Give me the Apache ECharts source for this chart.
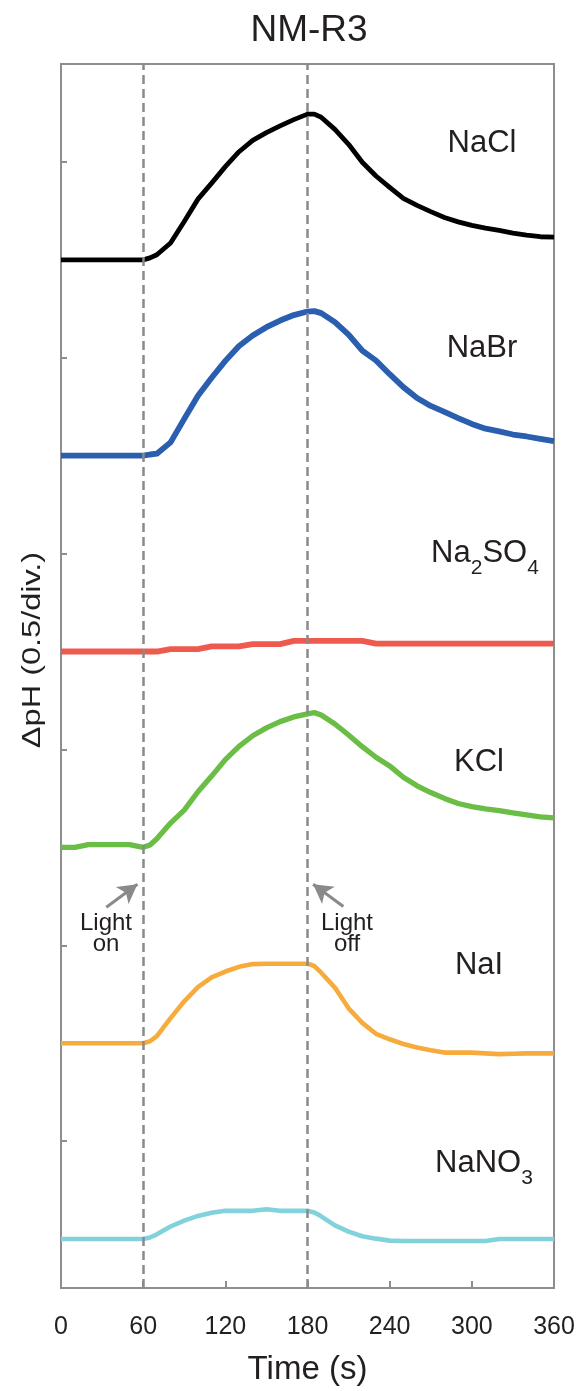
<!DOCTYPE html>
<html><head><meta charset="utf-8">
<script src="https://cdn.jsdelivr.net/npm/echarts@6/dist/echarts.min.js"></script>
<style>html,body{margin:0;padding:0;background:#fff}#c{width:579px;height:1391px}</style>
</head><body><div id="c"></div>
<script>
// ---- data (ΔpH vs time, s) ----
const times = [0,10,20,30,40,50,60,65,70,80,90,100,110,120,130,140,150,160,170,180,185,190,200,210,220,230,240,250,260,270,280,290,300,310,320,330,340,350,360];
const salts = ['NaCl','NaBr','Na2SO4','KCl','NaI','NaNO3'];
const naCl   = [0,0,0,0,0,0,0,0.005,0.013,0.043,0.098,0.155,0.196,0.238,0.276,0.305,0.325,0.342,0.358,0.372,0.372,0.364,0.333,0.295,0.249,0.214,0.185,0.157,0.139,0.123,0.108,0.097,0.088,0.081,0.075,0.068,0.063,0.059,0.058];
const naBr   = [0,0,0,0,0,0,0,0.003,0.005,0.034,0.094,0.153,0.199,0.242,0.28,0.307,0.328,0.345,0.359,0.368,0.369,0.364,0.341,0.309,0.268,0.243,0.208,0.175,0.147,0.127,0.112,0.096,0.081,0.069,0.062,0.054,0.049,0.043,0.037];
const na2SO4 = [0,0,0,0,0,0,0,0,0,0.006,0.006,0.006,0.013,0.013,0.013,0.019,0.019,0.019,0.027,0.027,0.027,0.027,0.027,0.027,0.027,0.02,0.02,0.02,0.02,0.02,0.02,0.02,0.02,0.02,0.02,0.02,0.02,0.02,0.02];
const kCl    = [0,0,0.007,0.007,0.007,0.007,0,0.006,0.022,0.062,0.095,0.142,0.182,0.224,0.258,0.285,0.305,0.321,0.333,0.341,0.344,0.338,0.315,0.287,0.257,0.23,0.208,0.179,0.157,0.14,0.125,0.112,0.104,0.098,0.094,0.088,0.083,0.078,0.075];
const naI    = [0,0,0,0,0,0,0,0.005,0.018,0.064,0.107,0.143,0.168,0.183,0.195,0.202,0.203,0.203,0.203,0.203,0.197,0.18,0.142,0.089,0.052,0.024,0.01,-0.002,-0.011,-0.018,-0.024,-0.024,-0.024,-0.026,-0.028,-0.027,-0.026,-0.026,-0.026];
const naNO3  = [0,0,0,0,0,0,0,0.004,0.012,0.032,0.047,0.059,0.067,0.072,0.072,0.072,0.076,0.072,0.072,0.072,0.068,0.058,0.035,0.019,0.007,0.001,-0.004,-0.005,-0.005,-0.005,-0.005,-0.005,-0.005,-0.005,0,0,0,0,0];
const seriesValues = [naCl, naBr, na2SO4, kCl, naI, naNO3];
const offsets = [2.5, 2.0, 1.5, 1.0, 0.5, 0];          // stacking offset of each trace (1 div = 0.5)
const xTicks = [0, 60, 120, 180, 240, 300, 360];
const yTickValues = [0,0.25,0.5,0.75,1,1.25,1.5,1.75,2,2.25,2.5,2.75];
const lightTimes = [60, 180];
const arrowOn  = [[33.1, 0.847], [55.8, 0.906]];
const arrowOff = [[206.2, 0.849], [184.1, 0.906]];
// label text pieces: [text, isSubscript]
const labelParts = [
  [['NaCl', 0]],
  [['NaBr', 0]],
  [['Na', 0], ['2', 1], ['SO', 0], ['4', 1]],
  [['KCl', 0]],
  [['NaI', 0]],
  [['NaNO', 0], ['3', 1]]
];

// ---- styling ----
const colors = ['#000000', '#2a5fb0', '#ef5a4e', '#6abd45', '#f7ab3c', '#82d2dc'];
const widths = [4.8, 5.8, 5.8, 5.3, 4.6, 4.6];
const FONT = '"Liberation Sans", Arial, Helvetica, sans-serif';
const TXT = '#231f20';
const GRAY = '#8e8e8e';
const MAIN_FS = 31, SUB_FS = 21, SUB_DROP = 15;

const chart = echarts.init(document.getElementById('c'), null, {renderer: 'canvas'});

const series = seriesValues.map((vals, i) => ({
  name: salts[i],
  type: 'line',
  z: 3,
  showSymbol: false,
  silent: true,
  animation: false,
  lineStyle: {color: colors[i], width: widths[i], join: 'round', cap: 'butt'},
  data: times.map((t, k) => [t, vals[k] + offsets[i]])
}));

const arrowPair = (a) => [
  {coord: a[0], symbol: 'none', lineStyle: {type: 'solid', width: 3, color: '#8a8a8a'}},
  {coord: a[1], symbol: 'arrow', symbolSize: [16, 19]}
];

series.unshift({
  type: 'line', z: 1, silent: true, animation: false, data: [],
  markLine: {
    silent: true, animation: false, symbol: ['none', 'none'],
    label: {show: false},
    lineStyle: {color: '#8a8a8a', width: 2.5, type: [9, 5]},
    emphasis: {disabled: true},
    data: lightTimes.map(t => ({xAxis: t})).concat([arrowPair(arrowOn), arrowPair(arrowOff)])
  }
});

const labelPos = [[482, 143], [482, 348], [485, 553], [479, 762], [479, 965], [484, 1163]];

const graphics = [
  {type: 'text', x: 309, y: 31, silent: true, style: {text: 'NM-R3', fontSize: 37, fontFamily: FONT, fill: TXT, align: 'center', verticalAlign: 'middle', textAlign: 'center', textVerticalAlign: 'middle'}},
  {type: 'text', x: 33, y: 650, rotation: Math.PI / 2, scaleX: 1.3, silent: true, style: {text: 'ΔpH (0.5/div.)', fontSize: 25, fontFamily: FONT, fill: TXT, align: 'center', verticalAlign: 'middle', textAlign: 'center', textVerticalAlign: 'middle'}},
  {type: 'text', x: 106, y: 913, silent: true, style: {text: 'Light\non', fontSize: 24, lineHeight: 21, fontFamily: FONT, fill: TXT, align: 'center', verticalAlign: 'top', textAlign: 'center', textVerticalAlign: 'top'}},
  {type: 'text', x: 347, y: 913, silent: true, style: {text: 'Light\noff', fontSize: 24, lineHeight: 21, fontFamily: FONT, fill: TXT, align: 'center', verticalAlign: 'top', textAlign: 'center', textVerticalAlign: 'top'}}
];

const mctx = document.createElement('canvas').getContext('2d');
function measure(txt, fs) { mctx.font = fs + 'px ' + FONT; return mctx.measureText(txt).width; }

labelParts.forEach((parts, i) => {
  const ws = parts.map(p => measure(p[0], p[1] ? SUB_FS : MAIN_FS));
  const total = ws.reduce((a, b) => a + b, 0);
  let x = labelPos[i][0] - total / 2;
  parts.forEach((p, j) => {
    graphics.push({type: 'text', x: x, y: labelPos[i][1] + (p[1] ? SUB_DROP : 0), silent: true,
      style: {text: p[0], fontSize: p[1] ? SUB_FS : MAIN_FS, fontFamily: FONT, fill: TXT,
        align: 'left', verticalAlign: 'middle', textAlign: 'left', textVerticalAlign: 'middle'}});
    x += ws[j];
  });
});

chart.setOption({
  animation: false,
  backgroundColor: '#ffffff',
  grid: {left: 61, top: 64, width: 493, height: 1225, show: true, borderColor: GRAY, borderWidth: 2, backgroundColor: 'transparent'},
  xAxis: {
    type: 'value', min: 0, max: 360, interval: 60,
    axisLine: {onZero: false, lineStyle: {color: GRAY, width: 2}},
    axisTick: {inside: true, length: 7, lineStyle: {color: GRAY, width: 2}, customValues: xTicks},
    axisLabel: {fontSize: 25, color: TXT, fontFamily: FONT, margin: 27, customValues: xTicks},
    splitLine: {show: false},
    name: 'Time (s)', nameLocation: 'middle', nameGap: 65,
    nameTextStyle: {fontSize: 33, color: TXT, fontFamily: FONT}
  },
  yAxis: {
    type: 'value', min: -0.125, max: 3.0,
    axisLine: {show: true, onZero: false, lineStyle: {color: GRAY, width: 2}},
    axisTick: {show: true, inside: true, length: 6, lineStyle: {color: GRAY, width: 2}, customValues: yTickValues},
    axisLabel: {show: false},
    splitLine: {show: false}
  },
  graphic: graphics,
  series: series
});
</script>
</body></html>
